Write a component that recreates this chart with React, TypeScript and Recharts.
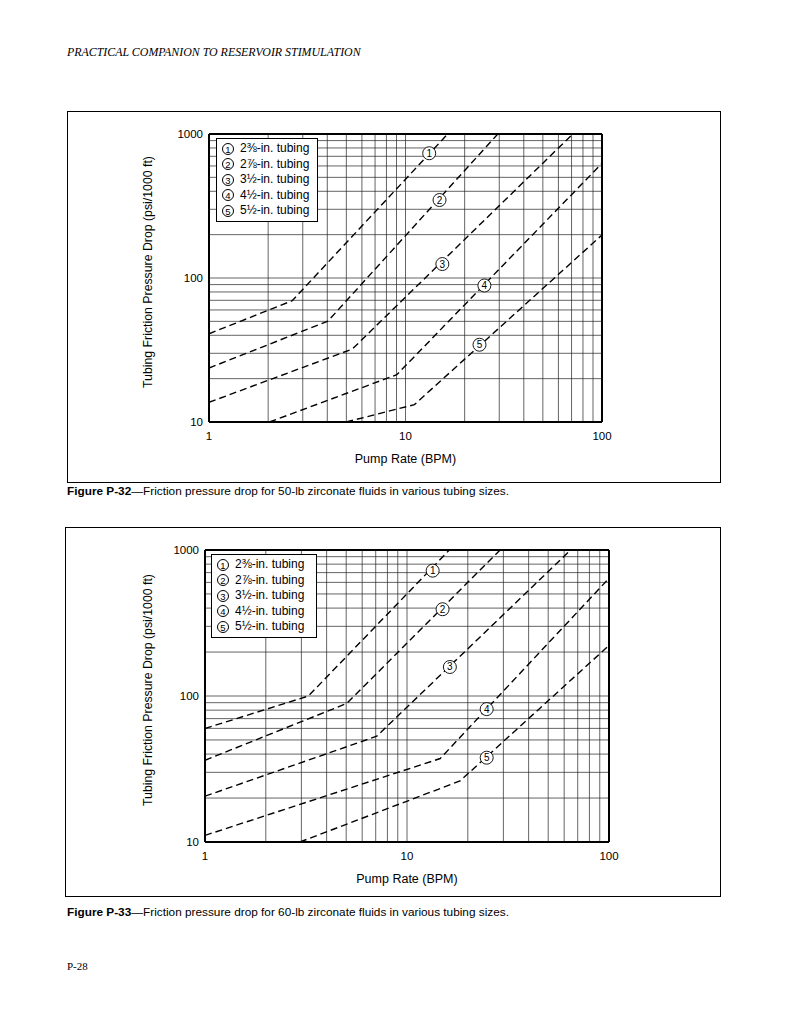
import React from "react";
import {
  LineChart,
  Line,
  Scatter,
  XAxis,
  YAxis,
  CartesianGrid,
  ReferenceLine,
} from "recharts";

const pumpRateTicks = [1, 2, 3, 4, 5, 6, 7, 8, 9, 10, 20, 30, 40, 50, 60, 70, 80, 90, 100];
const pressureTicks = [
  10, 20, 30, 40, 50, 60, 70, 80, 90, 100, 200, 300, 400, 500, 600, 700, 800, 900, 1000,
];
const decadeLabels = [1, 10, 100, 1000];
const tubingSizes = [
  "2⅜-in. tubing",
  "2⅞-in. tubing",
  "3½-in. tubing",
  "4½-in. tubing",
  "5½-in. tubing",
];

// Figure P-32 (50-lb): [pump rate BPM, psi/1000 ft] at start, knee, end
const p32Tubing1 = [[1, 41], [2.65, 69.5], [16.4, 1000]];
const p32Tubing2 = [[1, 23.7], [4.03, 50.2], [29.5, 1000]];
const p32Tubing3 = [[1, 13.7], [5.36, 32.1], [71, 1000]];
const p32Tubing4 = [[2.03, 10], [9.03, 21.3], [100, 626]];
const p32Tubing5 = [[4.99, 10], [11.1, 13.2], [100, 199]];
const p32Markers = [[13.2, 735], [14.9, 348], [15.4, 125], [25.2, 88.7], [23.8, 34.4]];

// Figure P-33 (60-lb)
const p33Tubing1 = [[1, 59.9], [3.25, 100], [16.2, 1000]];
const p33Tubing2 = [[1, 36.3], [5.03, 88.9], [28.9, 1000]];
const p33Tubing3 = [[1, 20.6], [7.08, 53], [64.6, 1000]];
const p33Tubing4 = [[1, 11.1], [14.6, 37.3], [100, 640]];
const p33Tubing5 = [[2.95, 10], [18.3, 26.2], [98.2, 217]];
const p33Markers = [[13.4, 722], [15.0, 393], [16.3, 158], [24.8, 81.3], [24.8, 37.8]];

const sans = '"Liberation Sans", Arial, Helvetica, sans-serif';
const serif = '"Liberation Serif", "Times New Roman", serif';

const toPoints = (pairs: number[][]) => pairs.map(([x, y]) => ({ x, y }));
const decadeFormat = (v: number) => (decadeLabels.includes(v) ? String(v) : "");

const CircledNumber = ({ n, size = 12 }: { n: number; size?: number }) => (
  <span
    style={{
      display: "inline-block",
      width: size,
      height: size,
      border: "1px solid #000",
      borderRadius: "50%",
      fontSize: 9.5,
      lineHeight: `${size - 1}px`,
      textAlign: "center",
      boxSizing: "border-box",
      marginRight: 6,
      verticalAlign: "middle",
    }}
  >
    {n}
  </span>
);

const MarkerShape = (props: any) => {
  const { cx, cy, payload } = props;
  return (
    <g>
      <circle cx={cx} cy={cy} r={6.5} fill="#fff" stroke="#000" strokeWidth={0.9} />
      <text x={cx} y={cy + 3.5} textAnchor="middle" fontSize={10} fontFamily={sans} fill="#000">
        {payload.n}
      </text>
    </g>
  );
};

interface IChartProps {
  curves: number[][][];
  markers: number[][];
  width: number;
  height: number;
  margin: { top: number; right: number; left: number; bottom: number };
  yLabelOffset: number;
  legendPos: { left: number; top: number; width: number };
}

const FrictionChart: React.FC<IChartProps> = ({
  curves,
  markers,
  width,
  height,
  margin,
  yLabelOffset,
  legendPos,
}) => {
  const markerData = markers.map(([x, y], i) => ({ x, y, n: i + 1 }));
  return (
    <div style={{ position: "relative", width, height }}>
      <LineChart width={width} height={height} margin={margin}>
        <CartesianGrid stroke="#222" strokeWidth={0.7} />
        <XAxis
          dataKey="x"
          type="number"
          scale="log"
          domain={[1, 100]}
          ticks={pumpRateTicks}
          interval={0}
          tickFormatter={decadeFormat}
          tickLine={false}
          tickSize={0}
          tickMargin={10}
          height={46}
          allowDataOverflow
          axisLine={{ stroke: "#000", strokeWidth: 2 }}
          tick={{ fill: "#000", fontSize: 11.5, fontFamily: sans }}
          label={{
            value: "Pump Rate (BPM)",
            position: "insideBottom",
            offset: 5,
            fill: "#000",
            fontSize: 12.5,
            fontFamily: sans,
          }}
        />
        <YAxis
          dataKey="y"
          type="number"
          scale="log"
          domain={[10, 1000]}
          ticks={pressureTicks}
          interval={0}
          tickFormatter={decadeFormat}
          tickLine={false}
          tickSize={0}
          tickMargin={6}
          width={70}
          allowDataOverflow
          axisLine={{ stroke: "#000", strokeWidth: 2 }}
          tick={{ fill: "#000", fontSize: 11.5, fontFamily: sans }}
          label={{
            value: "Tubing Friction Pressure Drop (psi/1000 ft)",
            angle: -90,
            position: "insideLeft",
            offset: yLabelOffset,
            dy: -6,
            fill: "#000",
            fontSize: 12.3,
            fontFamily: sans,
            style: { textAnchor: "middle" },
          }}
        />
        <ReferenceLine y={1000} stroke="#000" strokeWidth={2} />
        <ReferenceLine x={100} stroke="#000" strokeWidth={2} />
        {curves.map((c, i) => (
          <Line
            key={i}
            data={toPoints(c)}
            dataKey="y"
            type="linear"
            stroke="#000"
            strokeWidth={1.4}
            strokeDasharray="7 4"
            dot={false}
            isAnimationActive={false}
          />
        ))}
        <Scatter
          data={markerData}
          dataKey="y"
          shape={MarkerShape}
          isAnimationActive={false}
        />
      </LineChart>
      <div
        style={{
          position: "absolute",
          left: legendPos.left,
          top: legendPos.top,
          width: legendPos.width,
          background: "#fff",
          border: "1px solid #000",
          padding: "2px 0 2px 5px",
          boxSizing: "border-box",
          fontFamily: sans,
          fontSize: 12,
          lineHeight: "15.5px",
          color: "#000",
        }}
      >
        {tubingSizes.map((t, i) => (
          <div key={t} style={{ whiteSpace: "nowrap" }}>
            <CircledNumber n={i + 1} />
            {t}
          </div>
        ))}
      </div>
    </div>
  );
};

const Caption = ({ fig, text, top }: { fig: string; text: string; top: number }) => (
  <div
    style={{
      position: "absolute",
      left: 67,
      top,
      fontFamily: sans,
      fontSize: 11.8,
      color: "#000",
      whiteSpace: "nowrap",
    }}
  >
    <b>{fig}</b>—{text}
  </div>
);

export default function App() {
  return (
    <div style={{ position: "absolute", left: 0, top: 0, width: 791, height: 1024, background: "#fff" }}>
      <div
        style={{
          position: "absolute",
          left: 67,
          top: 45,
          fontFamily: serif,
          fontStyle: "italic",
          fontSize: 11.9,
          color: "#000",
          whiteSpace: "nowrap",
        }}
      >
        PRACTICAL COMPANION TO RESERVOIR STIMULATION
      </div>

      <div style={{ position: "absolute", left: 67, top: 111 }}>
        <FrictionChart
          curves={[p32Tubing1, p32Tubing2, p32Tubing3, p32Tubing4, p32Tubing5]}
          markers={p32Markers}
          width={654}
          height={372}
          margin={{ top: 23, right: 119, left: 72, bottom: 15 }}
          yLabelOffset={9}
          legendPos={{ left: 149, top: 27, width: 102 }}
        />
        <div style={{ position: "absolute", left: 0, top: 0, width: 654, height: 372, border: "1.5px solid #000", boxSizing: "border-box", pointerEvents: "none" }} />
      </div>
      <Caption
        fig="Figure P-32"
        text="Friction pressure drop for 50-lb zirconate fluids in various tubing sizes."
        top={484}
      />

      <div style={{ position: "absolute", left: 65, top: 527 }}>
        <FrictionChart
          curves={[p33Tubing1, p33Tubing2, p33Tubing3, p33Tubing4, p33Tubing5]}
          markers={p33Markers}
          width={656}
          height={370}
          margin={{ top: 23, right: 112, left: 70, bottom: 9 }}
          yLabelOffset={13}
          legendPos={{ left: 146, top: 27, width: 106 }}
        />
        <div style={{ position: "absolute", left: 0, top: 0, width: 656, height: 370, border: "1.5px solid #000", boxSizing: "border-box", pointerEvents: "none" }} />
      </div>
      <Caption
        fig="Figure P-33"
        text="Friction pressure drop for 60-lb zirconate fluids in various tubing sizes."
        top={905}
      />

      <div
        style={{
          position: "absolute",
          left: 67,
          top: 960,
          fontFamily: serif,
          fontSize: 11,
          color: "#000",
        }}
      >
        P-28
      </div>
    </div>
  );
}
